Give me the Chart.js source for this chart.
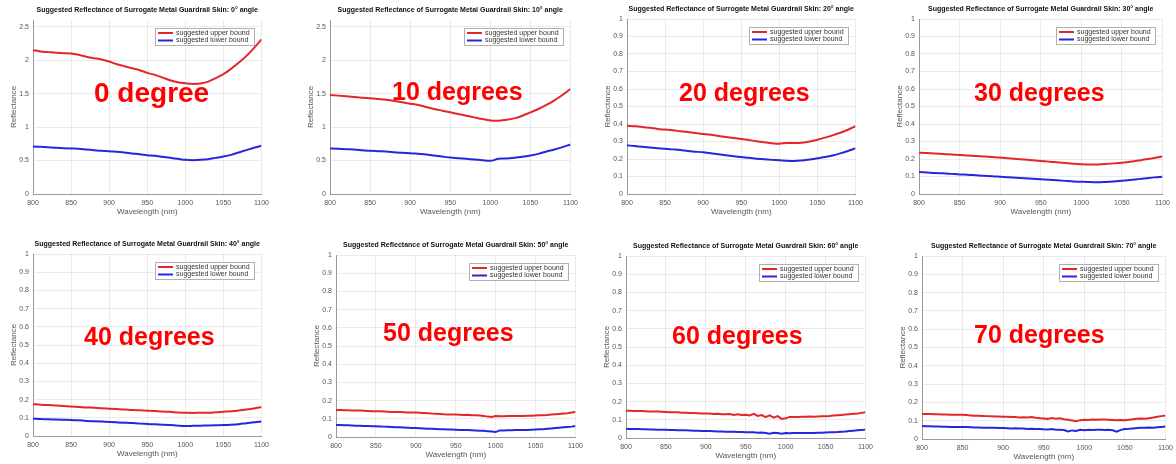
<!DOCTYPE html>
<html>
<head>
<meta charset="utf-8">
<script src="https://cdn.jsdelivr.net/npm/chart.js@4"></script>
<style>
  body { margin: 0; background: #fff; width: 1176px; height: 464px; overflow: hidden; position: relative; }
  canvas { position: absolute; }
  .big { position: absolute; color: #ff0000; font: bold 25px "Liberation Sans", Arial, sans-serif; line-height: 25px; white-space: nowrap; }
</style>
</head>
<body>
<canvas id="c0"></canvas><canvas id="c1"></canvas><canvas id="c2"></canvas><canvas id="c3"></canvas>
<canvas id="c4"></canvas><canvas id="c5"></canvas><canvas id="c6"></canvas><canvas id="c7"></canvas>
<div class="big" style="left:94px;top:79px;font-size:28px;line-height:28px">0 degree</div>
<div class="big" style="left:392px;top:79px">10 degrees</div>
<div class="big" style="left:679px;top:80px">20 degrees</div>
<div class="big" style="left:974px;top:80px">30 degrees</div>
<div class="big" style="left:84px;top:324px">40 degrees</div>
<div class="big" style="left:383px;top:320px">50 degrees</div>
<div class="big" style="left:672px;top:323px">60 degrees</div>
<div class="big" style="left:974px;top:322px">70 degrees</div>
<script>
// wavelengths, nm
var wl10 = [800, 810, 820, 830, 840, 850, 860, 870, 880, 890, 900, 910, 920, 930, 940, 950,
            960, 970, 980, 990, 1000, 1010, 1020, 1030, 1040, 1050, 1060, 1070, 1080, 1090, 1100];
var wl5 = [800, 805, 810, 815, 820, 825, 830, 835, 840, 845, 850, 855, 860, 865, 870, 875, 880, 885, 890, 895,
           900, 905, 910, 915, 920, 925, 930, 935, 940, 945, 950, 955, 960, 965, 970, 975, 980, 985, 990, 995,
           1000, 1005, 1010, 1015, 1020, 1025, 1030, 1035, 1040, 1045, 1050, 1055, 1060, 1065, 1070, 1075,
           1080, 1085, 1090, 1095, 1100];

var xTicks = [800, 850, 900, 950, 1000, 1050, 1100];
var yTicksBig = [0, 0.5, 1, 1.5, 2, 2.5];
var yTicksSmall = [0, 0.1, 0.2, 0.3, 0.4, 0.5, 0.6, 0.7, 0.8, 0.9, 1];
var angles = [0, 10, 20, 30, 40, 50, 60, 70];

var up0 = [2.15, 2.13, 2.12, 2.11, 2.105, 2.10, 2.08, 2.05, 2.03, 2.01, 1.98, 1.94, 1.91, 1.88, 1.85, 1.81,
           1.78, 1.74, 1.70, 1.67, 1.655, 1.645, 1.65, 1.68, 1.73, 1.79, 1.87, 1.96, 2.06, 2.18, 2.31];
var low0 = [0.71, 0.705, 0.70, 0.69, 0.685, 0.68, 0.675, 0.665, 0.655, 0.645, 0.64, 0.63, 0.62, 0.605, 0.595, 0.58,
            0.57, 0.555, 0.54, 0.525, 0.51, 0.505, 0.51, 0.52, 0.54, 0.56, 0.585, 0.62, 0.655, 0.69, 0.72];

var up10 = [1.48, 1.47, 1.46, 1.45, 1.44, 1.43, 1.42, 1.41, 1.39, 1.37, 1.35, 1.33, 1.30, 1.27, 1.245, 1.22,
            1.195, 1.17, 1.145, 1.12, 1.10, 1.095, 1.11, 1.13, 1.17, 1.22, 1.27, 1.33, 1.40, 1.48, 1.57];
var low10 = [0.68, 0.675, 0.67, 0.665, 0.655, 0.645, 0.64, 0.635, 0.625, 0.615, 0.61, 0.60, 0.59, 0.575, 0.56, 0.545,
             0.535, 0.525, 0.515, 0.505, 0.495, 0.525, 0.53, 0.54, 0.555, 0.575, 0.60, 0.635, 0.665, 0.70, 0.74];

var up20 = [0.390, 0.387, 0.383, 0.378, 0.372, 0.368, 0.364, 0.359, 0.354, 0.348, 0.343, 0.338, 0.332, 0.326, 0.320, 0.314,
            0.308, 0.302, 0.296, 0.290, 0.287, 0.292, 0.291, 0.293, 0.300, 0.310, 0.322, 0.335, 0.350, 0.367, 0.387];
var low20 = [0.278, 0.274, 0.270, 0.266, 0.262, 0.259, 0.255, 0.251, 0.246, 0.242, 0.238, 0.233, 0.227, 0.222, 0.216, 0.211,
             0.207, 0.202, 0.198, 0.195, 0.193, 0.190, 0.189, 0.192, 0.197, 0.204, 0.211, 0.220, 0.232, 0.246, 0.261];

var up30 = [0.236, 0.234, 0.231, 0.229, 0.226, 0.223, 0.220, 0.217, 0.214, 0.211, 0.208, 0.204, 0.200, 0.197, 0.193, 0.189,
            0.185, 0.181, 0.177, 0.173, 0.170, 0.169, 0.169, 0.171, 0.175, 0.179, 0.184, 0.191, 0.198, 0.206, 0.215];
var low30 = [0.126, 0.123, 0.120, 0.118, 0.115, 0.112, 0.110, 0.107, 0.104, 0.102, 0.099, 0.096, 0.093, 0.090, 0.087, 0.084,
             0.081, 0.078, 0.075, 0.072, 0.070, 0.068, 0.067, 0.069, 0.072, 0.076, 0.080, 0.085, 0.090, 0.095, 0.099];

var up40 = [0.175, 0.172, 0.170, 0.167, 0.165, 0.162, 0.160, 0.157, 0.155, 0.152, 0.150, 0.148, 0.146, 0.143, 0.141, 0.139,
            0.137, 0.134, 0.133, 0.129, 0.128, 0.127, 0.128, 0.128, 0.130, 0.133, 0.136, 0.140, 0.145, 0.151, 0.159];
var low40 = [0.095, 0.093, 0.092, 0.090, 0.089, 0.088, 0.086, 0.083, 0.081, 0.079, 0.077, 0.075, 0.073, 0.071, 0.068, 0.066,
             0.064, 0.062, 0.060, 0.057, 0.055, 0.056, 0.057, 0.058, 0.059, 0.060, 0.062, 0.065, 0.070, 0.075, 0.080];

var up50 = [0.148, 0.148, 0.147, 0.147, 0.146, 0.145, 0.145, 0.144, 0.143, 0.142, 0.141, 0.141, 0.140, 0.139, 0.138, 0.138,
            0.137, 0.136, 0.135, 0.135, 0.134, 0.133, 0.132, 0.131, 0.129, 0.128, 0.127, 0.125, 0.124, 0.123, 0.123,
            0.122, 0.121, 0.122, 0.120, 0.119, 0.118, 0.116, 0.112, 0.110, 0.115, 0.114, 0.114, 0.115, 0.115, 0.115,
            0.116, 0.116, 0.117, 0.117, 0.118, 0.119, 0.120, 0.121, 0.123, 0.125, 0.127, 0.129, 0.131, 0.134, 0.137];
var low50 = [0.066, 0.066, 0.065, 0.064, 0.063, 0.062, 0.062, 0.061, 0.060, 0.059, 0.059, 0.058, 0.057, 0.056, 0.055, 0.054,
             0.053, 0.052, 0.051, 0.050, 0.049, 0.048, 0.047, 0.046, 0.045, 0.044, 0.043, 0.042, 0.041, 0.041, 0.040,
             0.039, 0.039, 0.038, 0.037, 0.036, 0.035, 0.034, 0.032, 0.030, 0.027, 0.036, 0.036, 0.037, 0.037, 0.038,
             0.038, 0.038, 0.039, 0.040, 0.041, 0.042, 0.043, 0.045, 0.047, 0.049, 0.051, 0.053, 0.055, 0.057, 0.060];

var up60 = [0.150, 0.150, 0.149, 0.148, 0.148, 0.147, 0.146, 0.146, 0.145, 0.144, 0.143, 0.142, 0.141, 0.141, 0.139, 0.139,
            0.138, 0.137, 0.136, 0.135, 0.134, 0.135, 0.132, 0.133, 0.131, 0.130, 0.132, 0.127, 0.130, 0.126, 0.128,
            0.124, 0.133, 0.121, 0.126, 0.114, 0.124, 0.112, 0.120, 0.105, 0.108, 0.116, 0.115, 0.116, 0.117, 0.117,
            0.118, 0.117, 0.118, 0.119, 0.120, 0.121, 0.123, 0.125, 0.127, 0.129, 0.131, 0.133, 0.135, 0.138, 0.141];
var low60 = [0.051, 0.050, 0.050, 0.049, 0.048, 0.048, 0.047, 0.047, 0.046, 0.046, 0.045, 0.044, 0.044, 0.043, 0.042, 0.042,
             0.041, 0.040, 0.040, 0.039, 0.038, 0.038, 0.037, 0.036, 0.036, 0.035, 0.034, 0.034, 0.033, 0.033, 0.032,
             0.031, 0.031, 0.029, 0.030, 0.028, 0.023, 0.029, 0.027, 0.024, 0.028, 0.026, 0.028, 0.027, 0.028, 0.027,
             0.028, 0.027, 0.029, 0.029, 0.030, 0.031, 0.032, 0.033, 0.035, 0.036, 0.038, 0.040, 0.042, 0.044, 0.046];

var up70 = [0.137, 0.136, 0.136, 0.135, 0.135, 0.134, 0.134, 0.133, 0.133, 0.132, 0.132, 0.131, 0.129, 0.127, 0.127, 0.126,
            0.125, 0.124, 0.123, 0.123, 0.121, 0.121, 0.120, 0.120, 0.118, 0.119, 0.117, 0.120, 0.116, 0.114, 0.112,
            0.110, 0.115, 0.111, 0.113, 0.108, 0.105, 0.101, 0.097, 0.103, 0.105, 0.104, 0.106, 0.105, 0.107, 0.106,
            0.105, 0.104, 0.102, 0.104, 0.103, 0.105, 0.108, 0.111, 0.112, 0.111, 0.114, 0.117, 0.121, 0.125, 0.129];
var low70 = [0.071, 0.070, 0.069, 0.068, 0.068, 0.067, 0.067, 0.066, 0.066, 0.066, 0.065, 0.065, 0.064, 0.063, 0.063, 0.062,
             0.062, 0.061, 0.061, 0.060, 0.060, 0.059, 0.058, 0.059, 0.057, 0.058, 0.055, 0.056, 0.054, 0.055, 0.053,
             0.052, 0.054, 0.051, 0.050, 0.049, 0.041, 0.047, 0.044, 0.050, 0.048, 0.050, 0.049, 0.050, 0.050, 0.049,
             0.051, 0.048, 0.040, 0.050, 0.055, 0.056, 0.058, 0.060, 0.062, 0.061, 0.063, 0.062, 0.064, 0.066, 0.068];

// plot area of each panel on the page: left, top, right, bottom
var boxes = [
  [33, 20, 264, 194], [330, 20, 573, 194], [627, 19, 858, 194], [919, 19, 1165, 194],
  [33, 254, 264, 436], [336, 255, 578, 437], [626, 256, 868, 438], [922, 256, 1168, 439]
];

var RED = 'rgb(228, 38, 42)';
var BLUE = 'rgb(38, 38, 220)';
var FONT = '"Liberation Sans", Arial, sans-serif';

// legend box drawn inside the axes, upper right (MATLAB style)
var boxLegend = {
  id: 'boxLegend',
  afterDraw: function(chart) {
    var ctx = chart.ctx, a = chart.chartArea, sets = chart.data.datasets;
    ctx.save();
    ctx.font = '7px ' + FONT;
    var tw = 0;
    for (var i = 0; i < sets.length; i++) {
      tw = Math.max(tw, ctx.measureText(sets[i].label).width);
    }
    var w = Math.round(tw + 25), h = 17;
    var x = Math.round(a.right - 7 - w), y = Math.round(a.top + 8);
    ctx.fillStyle = '#fff';
    ctx.fillRect(x, y, w, h);
    ctx.strokeStyle = '#b0b0b0';
    ctx.lineWidth = 1;
    ctx.strokeRect(x + 0.5, y + 0.5, w, h);
    for (var i = 0; i < sets.length; i++) {
      var cy = y + 5 + i * 7.5;
      ctx.strokeStyle = sets[i].borderColor;
      ctx.lineWidth = 2;
      ctx.beginPath();
      ctx.moveTo(x + 3, cy);
      ctx.lineTo(x + 18, cy);
      ctx.stroke();
      ctx.fillStyle = '#333';
      ctx.textBaseline = 'middle';
      ctx.fillText(sets[i].label, x + 21, cy);
    }
    ctx.restore();
  }
};

function pts(xs, ys) {
  return xs.map(function(x, i) { return { x: x, y: ys[i] }; });
}

function plainNumber(v) {
  return String(+Number(v).toFixed(2));
}

function makePanel(index, wl, up, low, yMax, yTicks, smooth) {
  var b = boxes[index];
  var plotW = b[2] - b[0], plotH = b[3] - b[1];
  var axisW = 32, titleH = 19, axisH = 30, padR = 10;
  var canvas = document.getElementById('c' + index);
  canvas.width = axisW + plotW + padR;
  canvas.height = titleH + plotH + axisH;
  canvas.style.left = (b[0] - axisW) + 'px';
  canvas.style.top = (b[1] - titleH) + 'px';

  var lineOpts = {
    fill: false, pointRadius: 0, borderWidth: 2,
    tension: smooth ? 0.4 : 0,
    cubicInterpolationMode: smooth ? 'monotone' : 'default'
  };

  new Chart(canvas, {
    type: 'line',
    data: {
      datasets: [
        Object.assign({ label: 'suggested upper bound', data: pts(wl, up), borderColor: RED }, lineOpts),
        Object.assign({ label: 'suggested lower bound', data: pts(wl, low), borderColor: BLUE }, lineOpts)
      ]
    },
    options: {
      responsive: false,
      animation: false,
      events: [],
      layout: { padding: { left: 0, right: padR, top: 0, bottom: 0 } },
      scales: {
        x: {
          type: 'linear', min: 800, max: 1100,
          afterBuildTicks: function(scale) { scale.ticks = xTicks.map(function(v) { return { value: v }; }); },
          afterFit: function(scale) { scale.height = axisH; },
          grid: { color: 'rgba(0,0,0,0.08)', drawTicks: false },
          border: { color: '#9a9a9a' },
          ticks: { padding: 5, maxRotation: 0, autoSkip: false, color: '#555', font: { size: 7, family: FONT }, callback: plainNumber },
          title: { display: true, text: 'Wavelength (nm)', color: '#555', font: { size: 8, family: FONT }, padding: { top: 0, bottom: 7 } }
        },
        y: {
          min: 0, max: yMax,
          afterBuildTicks: function(scale) { scale.ticks = yTicks.map(function(v) { return { value: v }; }); },
          afterFit: function(scale) { scale.width = axisW; },
          grid: { color: 'rgba(0,0,0,0.08)', drawTicks: false },
          border: { color: '#9a9a9a' },
          ticks: { padding: 4, color: '#555', font: { size: 7, family: FONT }, callback: plainNumber },
          title: { display: true, text: 'Reflectance', color: '#555', font: { size: 8, family: FONT }, padding: { top: 8, bottom: 0 } }
        }
      },
      plugins: {
        legend: { display: false },
        tooltip: { enabled: false },
        title: {
          display: true, fullSize: false,
          text: 'Suggested Reflectance of Surrogate Metal Guardrail Skin: ' + angles[index] + '\u00b0 angle',
          color: '#111',
          font: { size: 7, weight: 'bold', family: FONT, lineHeight: 1 },
          padding: { top: 6, bottom: 6 }
        }
      }
    },
    plugins: [boxLegend]
  });
}

makePanel(0, wl10, up0, low0, 2.6, yTicksBig, true);
makePanel(1, wl10, up10, low10, 2.6, yTicksBig, true);
makePanel(2, wl10, up20, low20, 1, yTicksSmall, true);
makePanel(3, wl10, up30, low30, 1, yTicksSmall, true);
makePanel(4, wl10, up40, low40, 1, yTicksSmall, true);
makePanel(5, wl5, up50, low50, 1, yTicksSmall, false);
makePanel(6, wl5, up60, low60, 1, yTicksSmall, false);
makePanel(7, wl5, up70, low70, 1, yTicksSmall, false);
</script>
</body>
</html>
